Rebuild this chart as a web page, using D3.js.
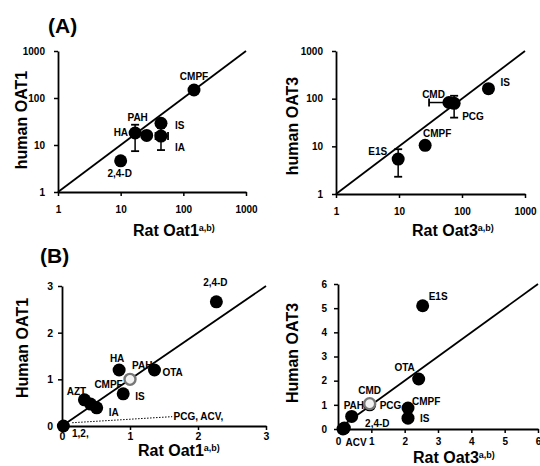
<html>
<head>
<script src="https://d3js.org/d3.v7.min.js"></script>
<style>
  body { margin: 0; background: #fff; }
  text { font-family: "Liberation Sans", Arial, sans-serif; font-weight: bold; }
</style>
</head>
<body>
<div id="chart"></div>
<script>

// ---- panel A, OAT1 (log-log) ----
const a1Drugs = ["CMPF", "HA", "PAH", "IS", "IA", "2,4-D"];
const a1Rat = [148, 17, 26, 44, 44, 10];
const a1Human = [148, 18, 16, 29, 15.5, 4.6];
const a1HumanLo = [null, 7.4, null, null, 7.8, null];
const a1HumanHi = [null, 27, null, null, 23, null];
const a1RatLo = [null, null, null, null, 36, null];
const a1RatHi = [null, null, null, null, 57, null];

// ---- panel A, OAT3 (log-log) ----
const a2Drugs = ["IS", "CMD", "PCG", "CMPF", "E1S"];
const a2Rat = [263, 62, 75, 26, 9.7];
const a2Human = [162, 83, 80, 10.5, 5.4];
const a2HumanLo = [135, null, 40, 8.5, 2.3];
const a2HumanHi = [null, null, 115, null, 8.7];
const a2RatLo = [null, 30, null, null, null];
const a2RatHi = [null, null, null, null, null];

// ---- panel B, OAT1 (relative) ----
const b1Drugs = ["2,4-D", "HA", "PAH", "OTA", "IS", "AZT", "CMPF", "IA", "PCG"];
const b1Rat = [2.27, 0.84, 1.0, 1.36, 0.9, 0.33, 0.42, 0.51, 0.02];
const b1Human = [2.66, 1.2, 1.0, 1.2, 0.69, 0.56, 0.47, 0.39, 0.0];
const b1Open = ["PAH"];

// ---- panel B, OAT3 (relative) ----
const b2Drugs = ["E1S", "OTA", "CMPF", "IS", "PAH", "PCG", "CMD", "2,4-D", "ACV"];
const b2Rat = [2.54, 2.42, 2.1, 2.1, 0.41, 0.95, 0.95, 0.19, 0.15];
const b2Human = [5.1, 2.07, 0.87, 0.45, 0.52, 1.0, 1.05, 0.04, 0.0];
const b2Open = ["CMD"];

const logTicks = [1, 10, 100, 1000];
const b1Ticks = [0, 1, 2, 3];
const b2Ticks = [0, 1, 2, 3, 4, 5, 6];

// label placement: [anchor, dx, dy]
const a1Labels = {"CMPF": ["middle", 0, -10], "HA": ["end", -7, 3], "PAH": ["middle", -9, -14],
  "IS": ["start", 14, 6], "IA": ["start", 14, 15], "2,4-D": ["middle", -1, 16]};
const a2Labels = {"IS": ["start", 12, -3], "CMD": ["end", -4, -5], "PCG": ["start", 8, 17],
  "CMPF": ["middle", 12, -8], "E1S": ["end", -11, -4]};
const b1Labels = {"2,4-D": ["middle", -1, -16], "HA": ["middle", -2, -8], "PAH": ["start", 2, -10],
  "OTA": ["start", 8, 6], "IS": ["start", 12, 6], "AZT": ["middle", -8, -5],
  "CMPF": ["middle", 18, -16], "IA": ["start", 12, 8]};
const b2Labels = {"E1S": ["start", 6, -6], "OTA": ["middle", -14, -8], "CMPF": ["start", 4, -3],
  "IS": ["start", 12, 4], "PAH": ["start", -8, -7], "PCG": ["start", 10, 4], "CMD": ["middle", 0, -10],
  "2,4-D": ["middle", 33, -1], "ACV": ["middle", 13, 17]};

const svg = d3.select("#chart").append("svg")
  .attr("width", 540).attr("height", 466);

function drawPanel(p) {
  const g = svg.append("g");
  const x = p.x, y = p.y;

  // identity line
  const d0 = x.domain()[0], d1 = x.domain()[1];
  g.append("line")
    .attr("x1", x(d0)).attr("y1", y(d0))
    .attr("x2", x(d1)).attr("y2", y(d1))
    .attr("stroke", "#000").attr("stroke-width", 1.8);

  const yAxis = g.append("g")
    .attr("transform", "translate(" + x.range()[0] + ",0)")
    .call(d3.axisLeft(y).tickValues(p.ticks).tickFormat(d3.format("d"))
      .tickSize(4).tickSizeOuter(0).tickPadding(p.yPad));
  const xAxis = g.append("g")
    .attr("transform", "translate(0," + y.range()[0] + ")")
    .call(d3.axisBottom(x).tickValues(p.ticks).tickFormat(d3.format("d"))
      .tickSize(4).tickSizeOuter(0).tickPadding(p.xPad));
  [yAxis, xAxis].forEach(a => {
    a.select(".domain").attr("stroke-width", 1.8);
    a.selectAll(".tick line").attr("stroke-width", 1.5);
    a.selectAll("text").style("font-size", p.tickFont + "px").attr("fill", "#000");
  });

  const data = p.names.map((n, i) => ({
    name: n, rx: p.rat[i], hy: p.human[i],
    hLo: p.hLo ? p.hLo[i] : null, hHi: p.hHi ? p.hHi[i] : null,
    rLo: p.rLo ? p.rLo[i] : null, rHi: p.rHi ? p.rHi[i] : null
  }));

  // labels first, dots sit on top of them like in the figure
  g.selectAll(".lab").data(data.filter(d => p.labels[d.name]))
    .enter().append("text")
    .attr("x", d => x(d.rx) + p.labels[d.name][1])
    .attr("y", d => y(d.hy) + p.labels[d.name][2])
    .attr("text-anchor", d => p.labels[d.name][0])
    .style("font-size", "10px")
    .text(d => d.name);

  // error bars
  const cap = 4;
  data.forEach(d => {
    if (d.hLo != null || d.hHi != null) {
      const lo = d.hLo != null ? d.hLo : d.hy, hi = d.hHi != null ? d.hHi : d.hy;
      g.append("line").attr("x1", x(d.rx)).attr("x2", x(d.rx))
        .attr("y1", y(lo)).attr("y2", y(hi)).attr("stroke", "#000").attr("stroke-width", 1.5);
      [d.hLo, d.hHi].filter(v => v != null).forEach(v => {
        g.append("line").attr("x1", x(d.rx) - cap).attr("x2", x(d.rx) + cap)
          .attr("y1", y(v)).attr("y2", y(v)).attr("stroke", "#000").attr("stroke-width", 1.8);
      });
    }
    if (d.rLo != null || d.rHi != null) {
      const lo = d.rLo != null ? d.rLo : d.rx, hi = d.rHi != null ? d.rHi : d.rx;
      g.append("line").attr("y1", y(d.hy)).attr("y2", y(d.hy))
        .attr("x1", x(lo)).attr("x2", x(hi)).attr("stroke", "#000").attr("stroke-width", 1.5);
      [d.rLo, d.rHi].filter(v => v != null).forEach(v => {
        g.append("line").attr("y1", y(d.hy) - cap).attr("y2", y(d.hy) + cap)
          .attr("x1", x(v)).attr("x2", x(v)).attr("stroke", "#000").attr("stroke-width", 1.8);
      });
    }
  });

  const open = p.open || [];
  g.selectAll(".dot").data(data).enter().append("circle")
    .attr("cx", d => x(d.rx)).attr("cy", d => y(d.hy))
    .attr("r", d => open.includes(d.name) ? 5.5 : 6.5)
    .attr("fill", d => open.includes(d.name) ? "#f2f2f2" : "#000")
    .attr("stroke", d => open.includes(d.name) ? "#777" : "none")
    .attr("stroke-width", 2.4);

  // axis titles
  g.append("text")
    .attr("transform", "translate(" + p.yTitle[0] + "," + p.yTitle[1] + ") rotate(-90)")
    .attr("text-anchor", "middle")
    .style("font-size", p.titleFont + "px")
    .text(p.yLabel);
  const xt = g.append("text")
    .attr("x", p.xTitle[0]).attr("y", p.xTitle[1])
    .style("font-size", p.titleFont + "px")
    .text(p.xLabel);
  xt.append("tspan").attr("dy", -5).style("font-size", "9px").text("a,b)");

  return g;
}

drawPanel({
  x: d3.scaleLog().domain([1, 1000]).range([58, 246]),
  y: d3.scaleLog().domain([1, 1000]).range([192, 51]),
  ticks: logTicks, yPad: 9, xPad: 10, tickFont: 10, titleFont: 16,
  names: a1Drugs, rat: a1Rat, human: a1Human,
  hLo: a1HumanLo, hHi: a1HumanHi, rLo: a1RatLo, rHi: a1RatHi,
  labels: a1Labels,
  yLabel: "human OAT1", yTitle: [27, 120],
  xLabel: "Rat Oat1", xTitle: [133, 236]
});

drawPanel({
  x: d3.scaleLog().domain([1, 1000]).range([336, 525]),
  y: d3.scaleLog().domain([1, 1000]).range([194, 51]),
  ticks: logTicks, yPad: 9, xPad: 10, tickFont: 10, titleFont: 16,
  names: a2Drugs, rat: a2Rat, human: a2Human,
  hLo: a2HumanLo, hHi: a2HumanHi, rLo: a2RatLo, rHi: a2RatHi,
  labels: a2Labels,
  yLabel: "human OAT3", yTitle: [298, 126],
  xLabel: "Rat Oat3", xTitle: [412, 236]
});

const b1 = drawPanel({
  x: d3.scaleLinear().domain([0, 3]).range([62, 266]),
  y: d3.scaleLinear().domain([0, 3]).range([426, 286]),
  ticks: b1Ticks, yPad: 5, xPad: 3, tickFont: 10.5, titleFont: 16,
  names: b1Drugs, rat: b1Rat, human: b1Human, open: b1Open,
  labels: b1Labels,
  yLabel: "Human OAT1", yTitle: [28, 348],
  xLabel: "Rat Oat1", xTitle: [138, 456]
});

drawPanel({
  x: d3.scaleLinear().domain([0, 6]).range([338, 538]),
  y: d3.scaleLinear().domain([0, 6]).range([429, 284]),
  ticks: b2Ticks, yPad: 7, xPad: 5, tickFont: 10, titleFont: 16,
  names: b2Drugs, rat: b2Rat, human: b2Human, open: b2Open,
  labels: b2Labels,
  yLabel: "Human OAT3", yTitle: [298, 353],
  xLabel: "Rat Oat3", xTitle: [413, 463]
});

// group labels near the origin of panel B / OAT1
const bx = d3.scaleLinear().domain([0, 3]).range([62, 266]);
const by = d3.scaleLinear().domain([0, 3]).range([426, 286]);
b1.append("line")
  .attr("x1", bx(0.15)).attr("y1", by(0.07))
  .attr("x2", bx(1.62)).attr("y2", by(0.2))
  .attr("stroke", "#000").attr("stroke-width", 1).attr("stroke-dasharray", "1.5,1.5");
b1.append("text").attr("x", bx(1.64)).attr("y", by(0.2) + 3.5)
  .style("font-size", "10px").text("PCG, ACV,");
b1.append("text").attr("x", bx(0.27)).attr("y", by(0) + 11)
  .attr("text-anchor", "middle").style("font-size", "10px").text("1,2,");

// panel letters
svg.append("text").attr("x", 48).attr("y", 33).style("font-size", "21px").text("(A)");
svg.append("text").attr("x", 40).attr("y", 263).style("font-size", "21px").text("(B)");

</script>
</body>
</html>
